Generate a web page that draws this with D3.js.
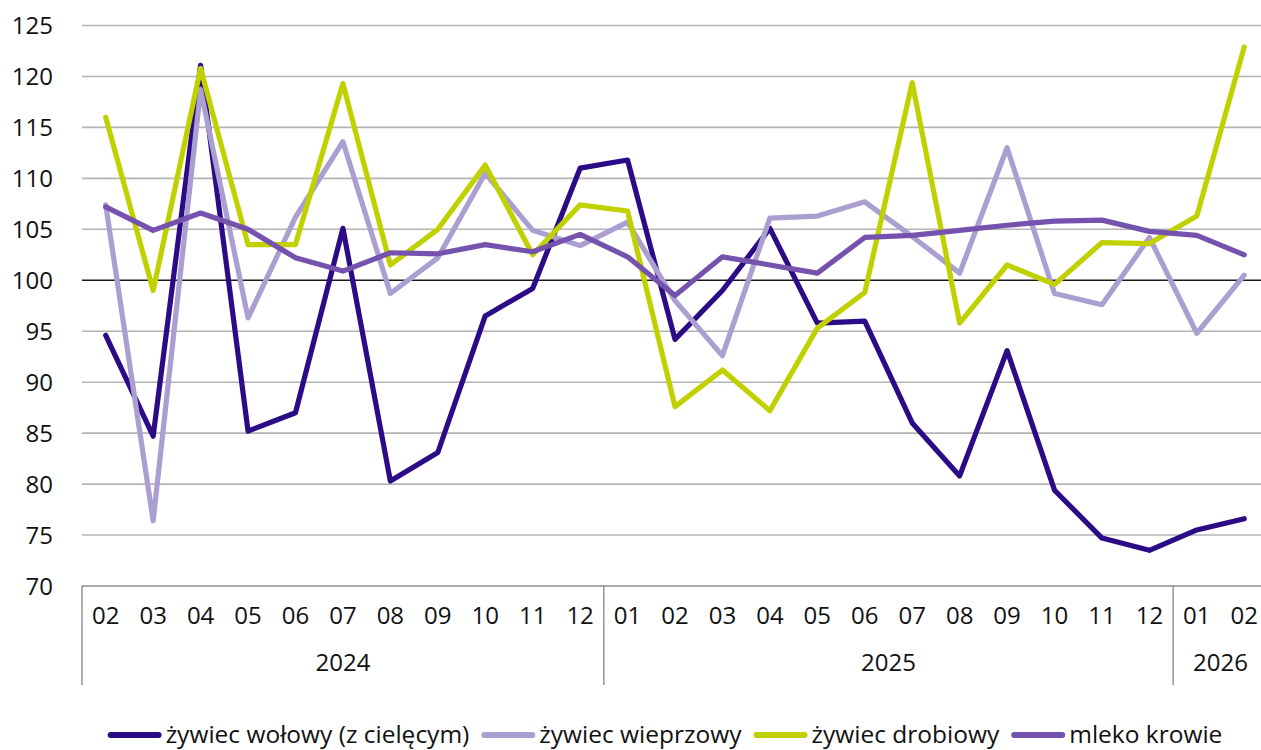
<!DOCTYPE html>
<html>
<head>
<meta charset="utf-8">
<script src="https://cdn.jsdelivr.net/npm/d3@7"></script>
<style>
  html, body { margin: 0; padding: 0; background: #fff; }
  svg { display: block; font-family: "Open Sans", sans-serif; }
</style>
</head>
<body>
<svg id="chart" width="1261" height="750"></svg>
<script>
// ---- data ----
const months = ["02","03","04","05","06","07","08","09","10","11","12",
                "01","02","03","04","05","06","07","08","09","10","11","12",
                "01","02"];
const years = [
  {label: "2024", start: 0, count: 11},
  {label: "2025", start: 11, count: 12},
  {label: "2026", start: 23, count: 2}
];
const yTicks = [70, 75, 80, 85, 90, 95, 100, 105, 110, 115, 120, 125];

const wolowy    = [94.6, 84.7, 121.1, 85.2, 87.0, 105.1, 80.3, 83.1, 96.5, 99.2, 111.0, 111.8,
                   94.2, 99.0, 105.1, 95.8, 96.0, 86.0, 80.8, 93.1, 79.4, 74.7, 73.5, 75.5, 76.6];
const wieprzowy = [107.4, 76.4, 118.7, 96.3, 106.2, 113.6, 98.7, 102.2, 110.5, 104.9, 103.4, 105.7,
                   98.0, 92.6, 106.1, 106.3, 107.7, 104.3, 100.7, 113.0, 98.7, 97.6, 104.2, 94.8, 100.5];
const drobiowy  = [116.0, 99.0, 120.8, 103.5, 103.5, 119.3, 101.5, 105.0, 111.3, 102.5, 107.4, 106.8,
                   87.6, 91.2, 87.2, 95.3, 98.8, 119.4, 95.8, 101.5, 99.6, 103.7, 103.6, 106.3, 122.9];
const mleko     = [107.2, 104.9, 106.6, 105.0, 102.2, 100.9, 102.7, 102.6, 103.5, 102.8, 104.5, 102.3,
                   98.5, 102.3, 101.5, 100.7, 104.2, 104.4, 104.9, 105.4, 105.8, 105.9, 104.8, 104.4, 102.5];

const seriesNames = ["żywiec wołowy (z cielęcym)", "żywiec wieprzowy", "żywiec drobiowy", "mleko krowie"];
const seriesValues = [wolowy, wieprzowy, drobiowy, mleko];
const seriesColors = ["#2b0c86", "#aa9fd0", "#c1d100", "#7452ad"];

// ---- layout ----
const svg = d3.select("#chart");
const plotLeft = 82, plotRight = 1268, plotTop = 25.5, plotBottom = 586;

const x = d3.scaleBand().domain(d3.range(months.length)).range([plotLeft, plotRight]).padding(0);
const xc = i => x(i) + x.bandwidth() / 2;
const y = d3.scaleLinear().domain([70, 125]).range([plotBottom, plotTop]);

// gridlines
svg.append("g").selectAll("line")
  .data(yTicks)
  .join("line")
  .attr("x1", plotLeft).attr("x2", plotRight)
  .attr("y1", d => y(d)).attr("y2", d => y(d))
  .attr("stroke", d => d === 100 ? "#1a1a1a" : (d === 70 ? "#8c8c8c" : "#b4b4b4"))
  .attr("stroke-width", d => d === 100 ? 1.3 : 1.6);

// y axis labels
const yAxis = d3.axisLeft(y).tickValues(yTicks).tickSize(0).tickPadding(0);
const gy = svg.append("g").attr("transform", `translate(53,0)`).call(yAxis);
gy.select(".domain").remove();
gy.selectAll("text")
  .attr("font-family", "Open Sans, sans-serif")
  .attr("font-size", 24)
  .attr("fill", "#111")
  .attr("dy", "0.34em");

// x axis: month labels
const xAxis = d3.axisBottom(x).tickFormat(i => months[i]).tickSize(0).tickPadding(0);
const gx = svg.append("g").attr("transform", `translate(0,${plotBottom})`).call(xAxis);
gx.select(".domain").remove();
gx.selectAll("text")
  .attr("font-family", "Open Sans, sans-serif")
  .attr("font-size", 24)
  .attr("fill", "#111")
  .attr("y", 29.5)
  .attr("dy", "0.35em");

// year separators
const sepX = years.map(yr => x(yr.start)).concat([plotRight]);
svg.append("g").selectAll("line")
  .data(sepX)
  .join("line")
  .attr("x1", d => d).attr("x2", d => d)
  .attr("y1", plotBottom).attr("y2", 685)
  .attr("stroke", "#7a7a7a").attr("stroke-width", 1.2);

// year labels
svg.append("g").selectAll("text")
  .data(years)
  .join("text")
  .attr("x", d => (x(d.start) + x(d.start + d.count - 1) + x.bandwidth()) / 2)
  .attr("y", 663)
  .attr("dy", "0.35em")
  .attr("text-anchor", "middle")
  .attr("font-size", 24)
  .attr("fill", "#111")
  .text(d => d.label);

// lines
const line = d3.line().x((d, i) => xc(i)).y(d => y(d));
svg.append("g").selectAll("path")
  .data(seriesValues)
  .join("path")
  .attr("d", d => line(d))
  .attr("fill", "none")
  .attr("stroke", (d, i) => seriesColors[i])
  .attr("stroke-width", 5.2)
  .attr("stroke-linejoin", "round")
  .attr("stroke-linecap", "round");

// legend
const lg = svg.append("g");
const swLen = 54, swGap = 4, itemGap = 12, legY = 735;
let cursorX = 0;
seriesNames.forEach((name, i) => {
  const g = lg.append("g");
  g.append("line")
    .attr("x1", 3).attr("x2", swLen - 3)
    .attr("y1", 0).attr("y2", 0)
    .attr("stroke", seriesColors[i]).attr("stroke-width", 6)
    .attr("stroke-linecap", "round");
  const t = g.append("text")
    .attr("x", swLen + swGap).attr("y", 0).attr("dy", "0.33em")
    .attr("font-size", 24.5).attr("fill", "#111")
    .text(name);
  const w = t.node().getComputedTextLength();
  g.attr("transform", `translate(${cursorX},0)`);
  cursorX += swLen + swGap + w + itemGap;
});
const totalW = cursorX - itemGap;
const legLeft = 665 - totalW / 2;
lg.attr("transform", `translate(${legLeft},${legY})`);
</script>
</body>
</html>
